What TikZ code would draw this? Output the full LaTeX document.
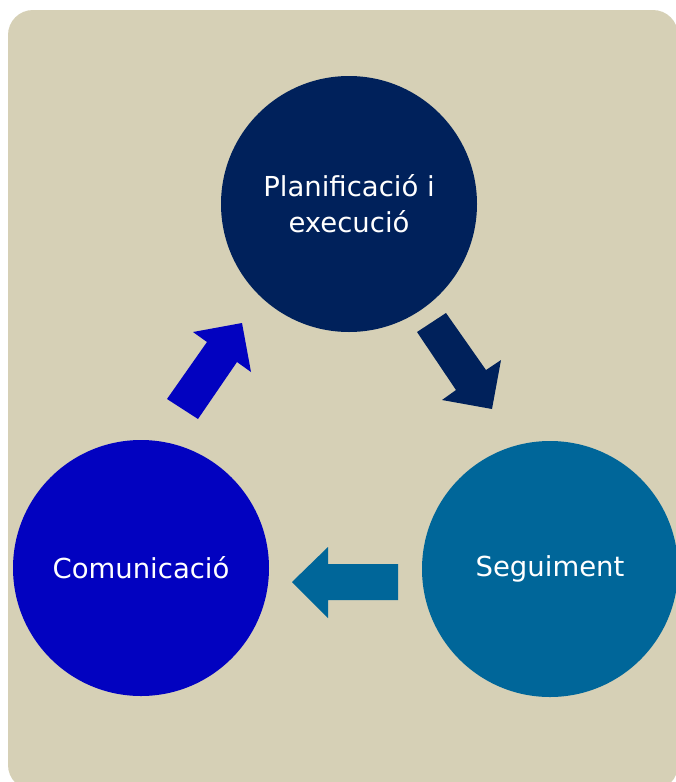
\documentclass[tikz,border=0pt]{standalone}
\usepackage{fontspec}
\setmainfont{DejaVu Sans}
\definecolor{bgbeige}{RGB}{214,208,182}
\definecolor{navy}{RGB}{0,33,91}
\definecolor{vblue}{RGB}{2,2,192}
\definecolor{teal}{RGB}{0,102,153}
\begin{document}
\begin{tikzpicture}[x=1pt,y=-1pt,
  stage/.style={circle, minimum size=256pt, inner sep=0pt, text=white, align=center,
    font=\fontsize{27.5pt}{36pt}\selectfont}]
\useasboundingbox (0,0) rectangle (676,782);
\fill[white] (0,0) rectangle (676,782);
\fill[bgbeige, rounded corners=25pt] (8,10) rectangle (678,790);
\node[stage, fill=navy] (plan) at (349,204) {Planificació i\\execució};
\node[stage, fill=vblue] (com) at (141,568) {Comunicació};
\node[stage, fill=teal] (seg) at (550,569) {Seguiment};
% arrows
\fill[navy] (417,332) -- (446,313) -- (486,370) -- (501,360) -- (492,409) -- (442,400) -- (456,390) -- cycle;
\fill[vblue] (167,399) -- (198,419) -- (237,362) -- (251,372) -- (242,323) -- (193,332) -- (207,342) -- cycle;
\fill[teal] (398,564) -- (398,600) -- (328,600) -- (328,618) -- (292,582) -- (328,547) -- (328,564) -- cycle;
\end{tikzpicture}
\end{document}
